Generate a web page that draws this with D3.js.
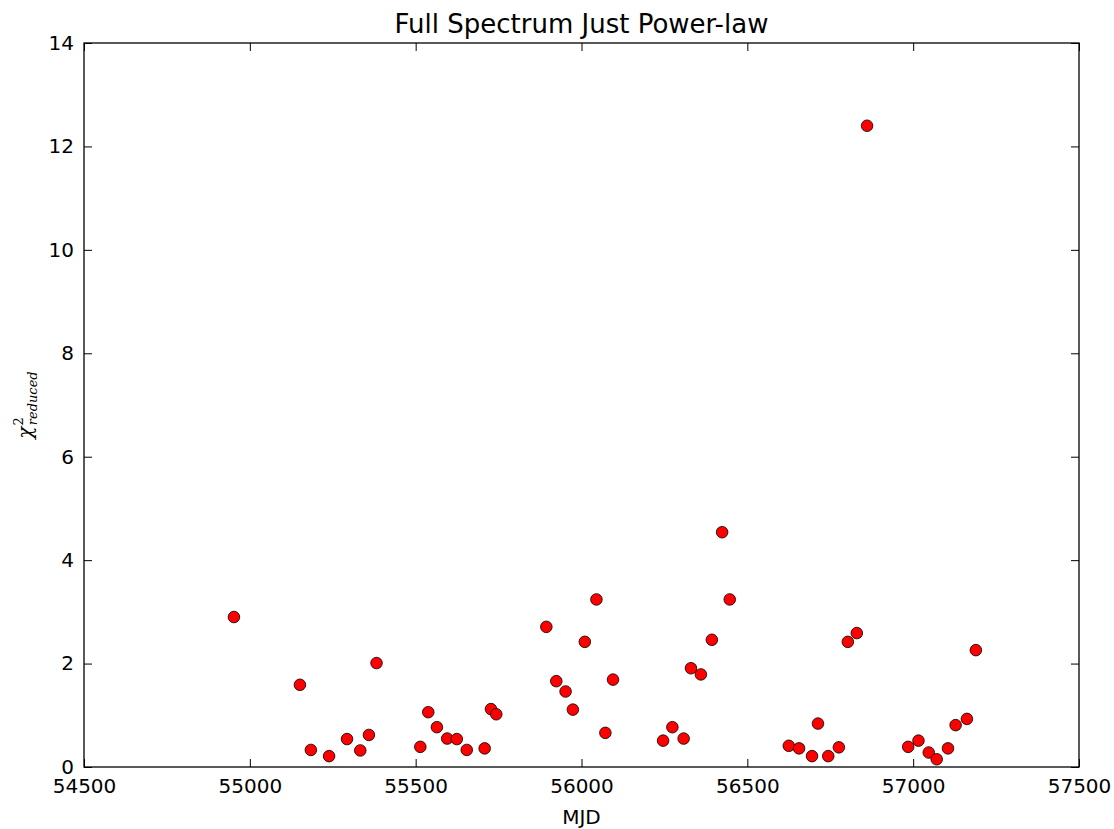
<!DOCTYPE html>
<html>
<head>
<meta charset="utf-8">
<script src="https://cdn.jsdelivr.net/npm/d3@7.9.0/dist/d3.min.js"></script>
<style>
  body { margin: 0; background: #fff; }
  svg text { font-family: "DejaVu Sans", sans-serif; fill: #000; }
</style>
</head>
<body>
<div id="chart"></div>
<script>
// MJD of each fit and its reduced chi-square
const mjd = [
  54952, 55151, 55184, 55239, 55293, 55333, 55359, 55382,
  55514, 55538, 55564, 55595, 55624, 55654, 55708, 55727, 55743,
  55894, 55924, 55952, 55974, 56010, 56045, 56072, 56095,
  56246, 56274, 56308, 56330, 56360, 56393, 56424, 56447, 56861,
  56625, 56656, 56695, 56713, 56744, 56776, 56803, 56830,
  56985, 57016, 57047, 57071, 57105, 57128, 57162, 57189
];
const chi2 = [
  2.90, 1.59, 0.33, 0.21, 0.54, 0.32, 0.62, 2.01,
  0.39, 1.06, 0.77, 0.55, 0.54, 0.33, 0.36, 1.12, 1.02,
  2.71, 1.66, 1.46, 1.11, 2.42, 3.24, 0.66, 1.69,
  0.51, 0.77, 0.55, 1.91, 1.79, 2.46, 4.54, 3.24, 12.40,
  0.41, 0.36, 0.21, 0.84, 0.21, 0.38, 2.42, 2.59,
  0.39, 0.51, 0.28, 0.15, 0.36, 0.81, 0.93, 2.26
];
const xTicks = [54500, 55000, 55500, 56000, 56500, 57000, 57500];
const yTicks = [0, 2, 4, 6, 8, 10, 12, 14];

const points = mjd.map((m, i) => ({ mjd: m, chi2: chi2[i] }));

const width = 1114;
const height = 829;
const margin = { top: 43, right: 35, bottom: 62, left: 84 };
const usableArea = {
    top: margin.top,
    right: width - margin.right,
    bottom: height - margin.bottom,
    left: margin.left,
};

const xScale = d3.scaleLinear().domain([54500, 57500]).range([usableArea.left, usableArea.right]);
const yScale = d3.scaleLinear().domain([0, 14]).range([usableArea.bottom, usableArea.top]);

const svg = d3.select('#chart')
    .append('svg')
    .attr('width', width)
    .attr('height', height);

const tickLen = 8;

// bottom axis with labels, ticks point inward
const axBottom = svg.append('g')
    .attr('transform', `translate(0, ${usableArea.bottom})`)
    .call(d3.axisBottom(xScale).tickValues(xTicks).tickFormat(d3.format('d'))
        .tickSizeInner(-tickLen).tickSizeOuter(0).tickPadding(12));
// top axis ticks only
const axTop = svg.append('g')
    .attr('transform', `translate(0, ${usableArea.top})`)
    .call(d3.axisTop(xScale).tickValues(xTicks).tickSizeInner(-tickLen).tickSizeOuter(0).tickFormat(''));
// left axis with labels
const axLeft = svg.append('g')
    .attr('transform', `translate(${usableArea.left}, 0)`)
    .call(d3.axisLeft(yScale).tickValues(yTicks).tickSizeInner(-tickLen).tickSizeOuter(0).tickPadding(10));
// right axis ticks only
const axRight = svg.append('g')
    .attr('transform', `translate(${usableArea.right}, 0)`)
    .call(d3.axisRight(yScale).tickValues(yTicks).tickSizeInner(-tickLen).tickSizeOuter(0).tickFormat(''));

[axBottom, axTop, axLeft, axRight].forEach(g => {
    g.select('.domain').remove();
    g.selectAll('.tick line').attr('stroke', '#000').attr('stroke-width', 1);
    g.selectAll('.tick text')
        .style('font-family', '"DejaVu Sans", sans-serif')
        .style('font-size', '20px')
        .attr('fill', '#000');
});

// frame
svg.append('rect')
    .attr('x', usableArea.left)
    .attr('y', usableArea.top)
    .attr('width', usableArea.right - usableArea.left)
    .attr('height', usableArea.bottom - usableArea.top)
    .attr('fill', 'none')
    .attr('stroke', '#000')
    .attr('stroke-width', 1.3);

// points
svg.append('g')
    .attr('class', 'dots')
    .selectAll('circle')
    .data(points)
    .join('circle')
    .attr('cx', d => xScale(d.mjd))
    .attr('cy', d => yScale(d.chi2))
    .attr('r', 5.8)
    .attr('fill', '#ff0000')
    .attr('stroke', '#000')
    .attr('stroke-width', 0.8);

// title
svg.append('text')
    .attr('x', (usableArea.left + usableArea.right) / 2)
    .attr('y', 33)
    .attr('text-anchor', 'middle')
    .style('font-size', '26px')
    .text('Full Spectrum Just Power-law');

// x label
svg.append('text')
    .attr('x', (usableArea.left + usableArea.right) / 2)
    .attr('y', 824)
    .attr('text-anchor', 'middle')
    .style('font-size', '20px')
    .text('MJD');

// y label: chi^2_reduced
const ylab = svg.append('text')
    .attr('transform', `translate(32, 405) rotate(-90)`)
    .attr('text-anchor', 'middle')
    .style('font-family', '"DejaVu Serif", serif')
    .style('font-size', '20px')
    .style('font-style', 'italic');
ylab.append('tspan').text('χ');
ylab.append('tspan').attr('dy', -9).attr('dx', 1).style('font-size', '13px').style('font-style', 'normal').text('2');
ylab.append('tspan').attr('dy', 14).attr('dx', -8).style('font-size', '13px').text('reduced');
</script>
</body>
</html>
